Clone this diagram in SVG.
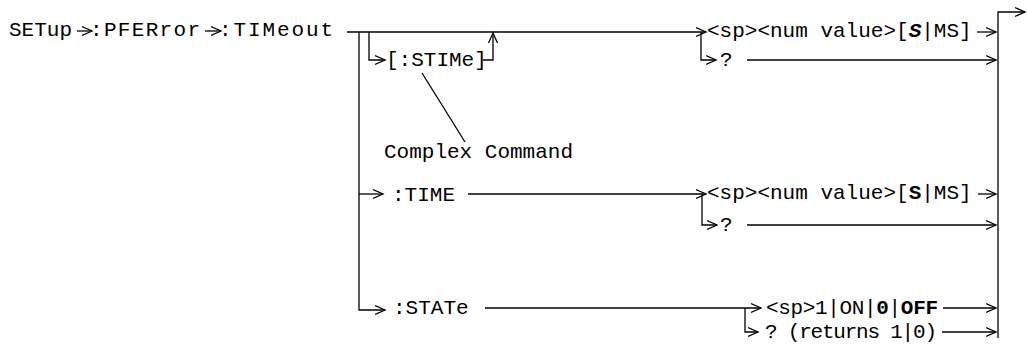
<svg xmlns="http://www.w3.org/2000/svg" width="1027" height="349" viewBox="0 0 1027 349">
<style>
text{font-family:"Liberation Mono","Courier New",monospace;font-size:21px;fill:#000}
.b{font-weight:bold}
.c line,.c path{stroke:#000;stroke-width:1.3;fill:none}
</style>
<defs>
<marker id="ah" markerUnits="userSpaceOnUse" markerWidth="12" markerHeight="12" refX="10" refY="5" orient="auto" viewBox="0 0 12 10">
<path d="M0,0.5 L10,5 L0,9.5" fill="none" stroke="#000" stroke-width="1.3"/>
</marker>
</defs>
<rect width="1027" height="349" fill="#fff"/>
<g id="title">
<text x="9" y="36">SETup</text>
<text x="90" y="36" textLength="110" lengthAdjust="spacing">:PFERror</text>
<text x="219" y="36" textLength="114" lengthAdjust="spacing">:TIMeout</text>
</g>
<g id="stime"><text x="386" y="66">[:STIMe]</text></g>
<g id="complex"><text x="384" y="158">Complex Command</text></g>
<g id="time"><text x="392" y="201">:TIME</text></g>
<g id="state"><text x="393" y="314">:STATe</text></g>
<g id="num1"><text x="707" y="37">&lt;sp&gt;&lt;num value&gt;[<tspan class="b" font-style="italic">S</tspan>|MS]</text></g>
<g id="q1"><text x="720" y="66">?</text></g>
<g id="num2"><text x="707" y="199">&lt;sp&gt;&lt;num value&gt;[<tspan class="b">S</tspan>|MS]</text></g>
<g id="q2"><text x="720" y="231">?</text></g>
<g id="onoff"><text x="766" y="314" textLength="172" lengthAdjust="spacing">&lt;sp&gt;1|ON|<tspan class="b">0</tspan>|<tspan class="b">OFF</tspan></text></g>
<g id="q3"><text x="765" y="338" textLength="172" lengthAdjust="spacing">? (returns 1|0)</text></g>
<g id="connectors" class="c">
<line x1="77" y1="31" x2="92" y2="31" marker-end="url(#ah)"/>
<line x1="205" y1="31" x2="221" y2="31" marker-end="url(#ah)"/>
<line x1="347" y1="32" x2="706" y2="32" marker-end="url(#ah)"/>
<path d="M359,32 V310 H385" marker-end="url(#ah)"/>
<line x1="359" y1="194" x2="383" y2="194" marker-end="url(#ah)"/>
<path d="M369,32 V60 H385" marker-end="url(#ah)"/>
<path d="M483,60 H493 V33" marker-end="url(#ah)"/>
<line x1="422" y1="73" x2="465" y2="142"/>
<path d="M701,32 V60 H716" marker-end="url(#ah)"/>
<line x1="747" y1="60" x2="996" y2="60" marker-end="url(#ah)"/>
<line x1="977" y1="32" x2="996" y2="32" marker-end="url(#ah)"/>
<path d="M998,338 V12 H1025" marker-end="url(#ah)"/>
<line x1="468" y1="194" x2="706" y2="194" marker-end="url(#ah)"/>
<path d="M702,194 V225 H717" marker-end="url(#ah)"/>
<line x1="747" y1="225" x2="996" y2="225" marker-end="url(#ah)"/>
<line x1="978" y1="194" x2="996" y2="194" marker-end="url(#ah)"/>
<line x1="485" y1="308" x2="761" y2="308" marker-end="url(#ah)"/>
<path d="M745,308 V332 H758" marker-end="url(#ah)"/>
<line x1="943" y1="308" x2="996" y2="308" marker-end="url(#ah)"/>
<line x1="942" y1="332" x2="996" y2="332" marker-end="url(#ah)"/>
</g>
</svg>
